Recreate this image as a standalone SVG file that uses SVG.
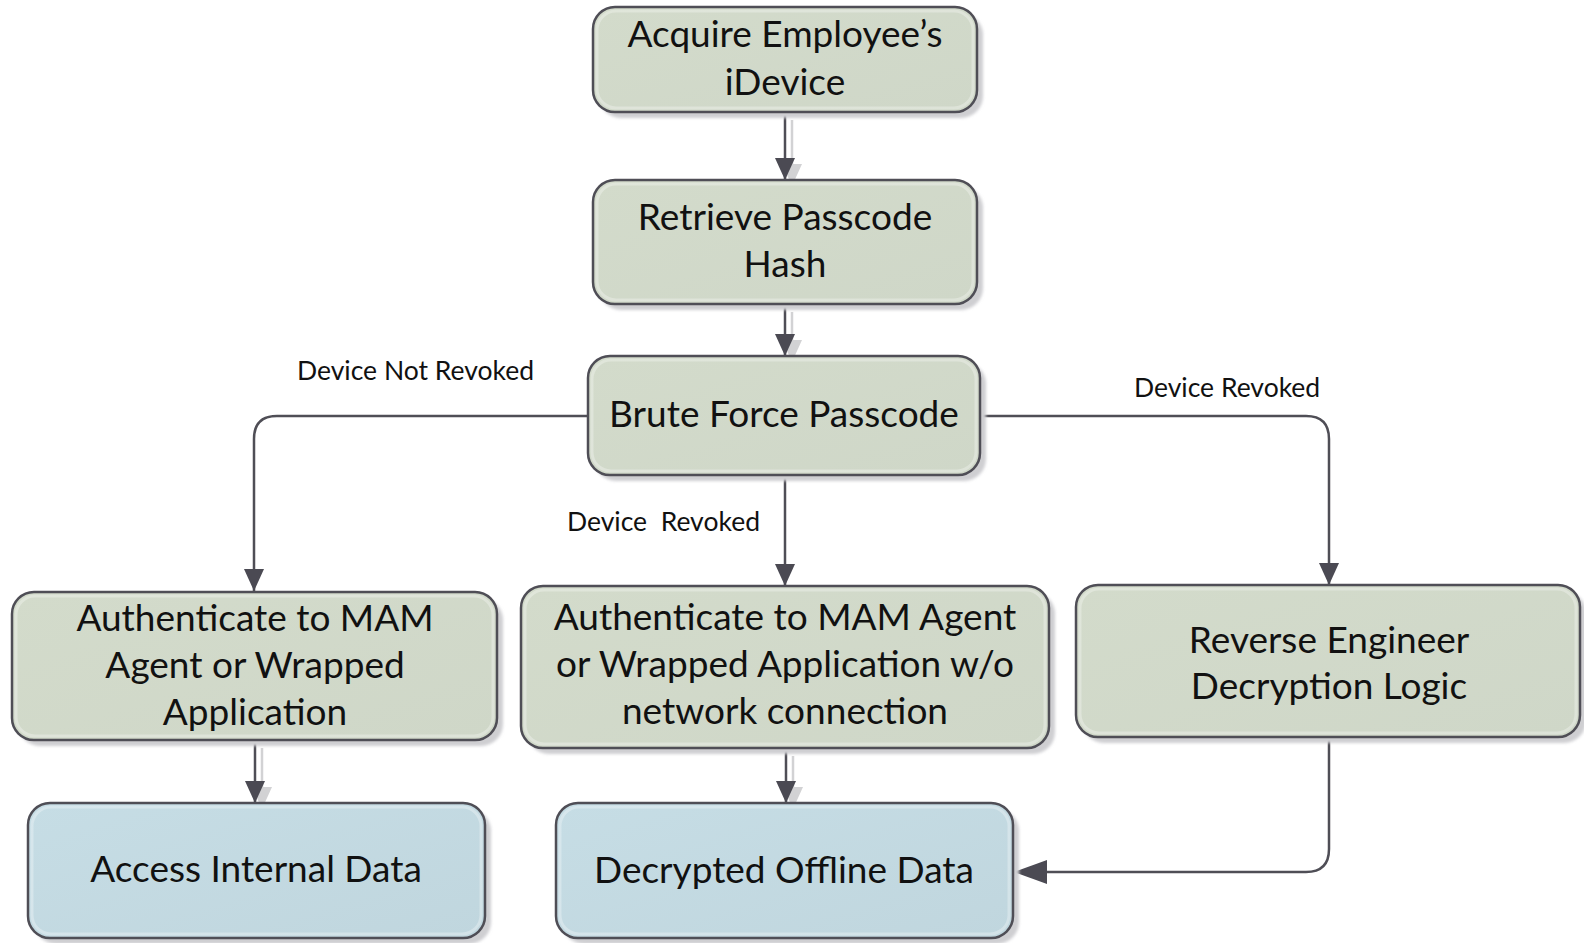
<svg xmlns="http://www.w3.org/2000/svg" width="1584" height="943" viewBox="0 0 1584 943">
  <defs>
    <linearGradient id="gGreen" x1="0" y1="0" x2="1" y2="1">
      <stop offset="0" stop-color="#d3dbcb"/>
      <stop offset="1" stop-color="#cfd7c8"/>
    </linearGradient>
    <linearGradient id="gBlue" x1="0" y1="0" x2="1" y2="1">
      <stop offset="0" stop-color="#c6dde5"/>
      <stop offset="1" stop-color="#c0d6de"/>
    </linearGradient>
    <filter id="soft" x="-10%" y="-10%" width="120%" height="130%">
      <feGaussianBlur stdDeviation="1.5"/>
    </filter>
    <marker id="arrow" markerUnits="userSpaceOnUse" markerWidth="22" markerHeight="20" viewBox="0 0 22 20" refX="22" refY="10" orient="auto">
      <path d="M0,0 L22,10 L0,20 z" fill="#4b4a53"/>
    </marker>
    <marker id="arrowShadow" markerUnits="userSpaceOnUse" markerWidth="22" markerHeight="20" viewBox="0 0 22 20" refX="22" refY="10" orient="auto">
      <path d="M0,0 L22,10 L0,20 z" fill="#d2d2d4"/>
    </marker>
    <marker id="arrowBig" markerUnits="userSpaceOnUse" markerWidth="33" markerHeight="24" viewBox="0 0 33 24" refX="33" refY="12" orient="auto">
      <path d="M0,0 L33,12 L0,24 z" fill="#4b4a53"/>
    </marker>
  </defs>
  <style>
    .shadow { fill: #cfcfd2; filter: url(#soft); }
    .box { stroke: #4f4e56; stroke-width: 2.5; }
    .green { fill: url(#gGreen); }
    .blue { fill: url(#gBlue); }
    .hl { fill: none; stroke: #ffffff; stroke-opacity: 0.3; stroke-width: 3; }
    .label { font-family: Lato, "Open Sans", "Liberation Sans", sans-serif; font-size: 37px; fill: #111111; text-anchor: middle; }
    .note { font-family: Lato, "Open Sans", "Liberation Sans", sans-serif; font-size: 26.5px; fill: #111111; text-anchor: start; }
    .conn { fill: none; stroke: #4f4e56; stroke-width: 2.5; }
    .connShadow { fill: none; stroke: #d2d2d4; stroke-width: 2.5; }
  </style>

  <rect width="1584" height="943" fill="#ffffff"/>

  <!-- connector shadows -->
  <g id="connector-shadows">
    <path class="connShadow" d="M792,120 V186" marker-end="url(#arrowShadow)"/>
    <path class="connShadow" d="M792,312 V362" marker-end="url(#arrowShadow)"/>
    <path class="connShadow" d="M262,748 V809" marker-end="url(#arrowShadow)"/>
    <path class="connShadow" d="M793,756 V809" marker-end="url(#arrowShadow)"/>
  </g>

  <!-- connectors -->
  <g id="connectors">
    <path class="conn" d="M785,112 V180" marker-end="url(#arrow)"/>
    <path class="conn" d="M785,304 V356" marker-end="url(#arrow)"/>
    <path class="conn" d="M588,416 H277 Q254,416 254,439 V591" marker-end="url(#arrow)"/>
    <path class="conn" d="M785,475 V586" marker-end="url(#arrow)"/>
    <path class="conn" d="M980,416 H1306 Q1329,416 1329,439 V585" marker-end="url(#arrow)"/>
    <path class="conn" d="M255,740 V803" marker-end="url(#arrow)"/>
    <path class="conn" d="M786,748 V803" marker-end="url(#arrow)"/>
    <path class="conn" d="M1329,737 V849 Q1329,872 1306,872 H1014" marker-end="url(#arrowBig)"/>
    <text class="note" x="297" y="380">Device Not Revoked</text>
    <text class="note" x="567" y="531" xml:space="preserve">Device  Revoked</text>
    <text class="note" x="1134" y="397">Device Revoked</text>
  </g>

  <g id="acquire">
    <rect class="shadow" x="599" y="13" width="384" height="105" rx="22"/>
    <rect class="box green" x="593" y="7" width="384" height="105" rx="22"/>
    <rect class="hl" x="597" y="11" width="376" height="97" rx="19"/>
    <text class="label" x="785" y="47">Acquire Employee’s</text>
    <text class="label" x="785" y="95">iDevice</text>
  </g>

  <g id="retrieve">
    <rect class="shadow" x="599" y="186" width="384" height="124" rx="22"/>
    <rect class="box green" x="593" y="180" width="384" height="124" rx="22"/>
    <rect class="hl" x="597" y="184" width="376" height="116" rx="19"/>
    <text class="label" x="785" y="230">Retrieve Passcode</text>
    <text class="label" x="785" y="277">Hash</text>
  </g>

  <g id="bruteforce">
    <rect class="shadow" x="594" y="362" width="392" height="119" rx="22"/>
    <rect class="box green" x="588" y="356" width="392" height="119" rx="22"/>
    <rect class="hl" x="592" y="360" width="384" height="111" rx="19"/>
    <text class="label" x="784" y="427">Brute Force Passcode</text>
  </g>

  <g id="auth-online">
    <rect class="shadow" x="18" y="598" width="485" height="148" rx="22"/>
    <rect class="box green" x="12" y="592" width="485" height="148" rx="22"/>
    <rect class="hl" x="16" y="596" width="477" height="140" rx="19"/>
    <text class="label" x="255" y="631">Authenticate to MAM</text>
    <text class="label" x="255" y="678">Agent or Wrapped</text>
    <text class="label" x="255" y="725">Application</text>
  </g>

  <g id="auth-offline">
    <rect class="shadow" x="527" y="592" width="528" height="162" rx="22"/>
    <rect class="box green" x="521" y="586" width="528" height="162" rx="22"/>
    <rect class="hl" x="525" y="590" width="520" height="154" rx="19"/>
    <text class="label" x="785" y="630">Authenticate to MAM Agent</text>
    <text class="label" x="785" y="677">or Wrapped Application w/o</text>
    <text class="label" x="785" y="724">network connection</text>
  </g>

  <g id="reverse">
    <rect class="shadow" x="1082" y="591" width="504" height="152" rx="22"/>
    <rect class="box green" x="1076" y="585" width="504" height="152" rx="22"/>
    <rect class="hl" x="1080" y="589" width="496" height="144" rx="19"/>
    <text class="label" x="1329" y="653">Reverse Engineer</text>
    <text class="label" x="1329" y="699">Decryption Logic</text>
  </g>

  <g id="access">
    <rect class="shadow" x="34" y="809" width="457" height="135" rx="22"/>
    <rect class="box blue" x="28" y="803" width="457" height="135" rx="22"/>
    <rect class="hl" x="32" y="807" width="449" height="127" rx="19"/>
    <text class="label" x="256" y="882">Access Internal Data</text>
  </g>

  <g id="decrypted">
    <rect class="shadow" x="562" y="809" width="457" height="135" rx="22"/>
    <rect class="box blue" x="556" y="803" width="457" height="135" rx="22"/>
    <rect class="hl" x="560" y="807" width="449" height="127" rx="19"/>
    <text class="label" x="784" y="883">Decrypted Offline Data</text>
  </g>
</svg>
